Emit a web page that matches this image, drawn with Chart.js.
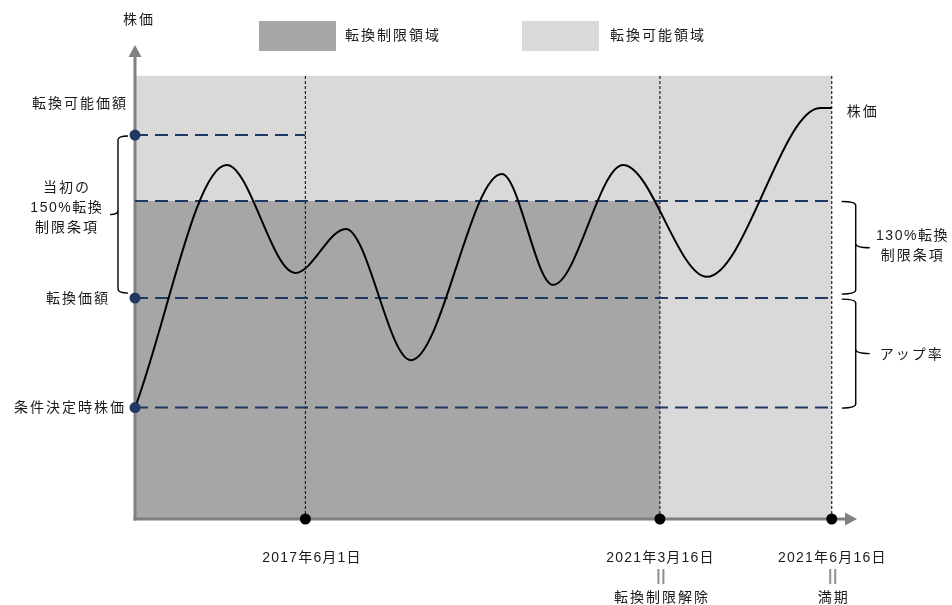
<!DOCTYPE html>
<html><head><meta charset="utf-8">
<script src="https://cdn.jsdelivr.net/npm/chart.js@4"></script>
<style>html,body{margin:0;padding:0;background:#fff;}canvas{display:block;}</style>
</head><body>
<canvas id="c" width="952" height="605"></canvas>
<script>
// ---- data (schematic units: x 0..100 time, y 0..100 price index) ----
const priceX = [0, 12.7, 22.2, 29.2, 38.2, 50.8, 57.9, 67.6, 79.2, 94.9, 96.5];
const priceY = [23.5, 74.7, 51.9, 61.2, 33.5, 72.8, 49.4, 74.7, 51.1, 86.7, 86.7];
const eventX = [23.6, 72.7, 96.5];
const eventLabels = ['2017年6月1日', '2021年3月16日', '2021年6月16日'];
const eventNotes = ['', '転換制限解除', '満期'];
const levelNames = ['条件決定時株価', '転換価額', '130%転換制限', '転換可能価額'];
const levelY = [23.5, 46.6, 67.1, 81.0];
const regionTop = 93.5;
const legendLabels = ['転換制限領域', '転換可能領域'];

const DARK = '#a6a6a6', LIGHT = '#d9d9d9', NAVY = '#1f3864', AXIS = '#808080', TXT = '#1a1a1a';
const FONT = '"Liberation Sans", "Noto Sans CJK JP", sans-serif';

const endX = eventX[2];
const datasets = [];
// dots on x axis
datasets.push({ data: eventX.map(x => ({x, y: 0})), showLine: false, pointRadius: 5.5, pointBackgroundColor: '#000', pointBorderWidth: 0, order: 1, clip: false });
// dots on y axis
datasets.push({ data: [levelY[0], levelY[1], levelY[3]].map(y => ({x: 0, y})), showLine: false, pointRadius: 5.5, pointBackgroundColor: NAVY, pointBorderWidth: 0, order: 1, clip: false });
// price curve
datasets.push({ data: priceX.map((x, i) => ({x, y: priceY[i]})), borderColor: '#000', borderWidth: 2, pointRadius: 0, cubicInterpolationMode: 'monotone', order: 2, clip: false });
// dashed level lines
[levelY[0], levelY[1], levelY[2]].forEach(y => datasets.push({ data: [{x: 0, y}, {x: endX, y}], borderColor: NAVY, borderWidth: 2, borderDash: [13, 7], pointRadius: 0, order: 4, clip: false }));
datasets.push({ data: [{x: 0, y: levelY[3]}, {x: eventX[0], y: levelY[3]}], borderColor: NAVY, borderWidth: 2, borderDash: [13, 7], pointRadius: 0, order: 4, clip: false });
// vertical dotted lines
eventX.forEach(x => datasets.push({ data: [{x, y: 0}, {x, y: regionTop}], borderColor: '#222', borderWidth: 1.2, borderDash: [3, 2], pointRadius: 0, order: 5, clip: false }));
// dark (restricted) region
datasets.push({ data: [{x: 0, y: levelY[3]}, {x: eventX[0], y: levelY[2]}, {x: eventX[1], y: levelY[2]}], stepped: 'after', borderWidth: 0, borderColor: 'rgba(0,0,0,0)', backgroundColor: DARK, fill: 'origin', pointRadius: 0, order: 9 });
const darkIndex = datasets.length - 1;
// light (convertible) region
datasets.push({ data: [{x: 0, y: regionTop}, {x: endX, y: regionTop}], borderWidth: 0, borderColor: 'rgba(0,0,0,0)', backgroundColor: LIGHT, fill: 'origin', pointRadius: 0, order: 10 });

function txt(ctx, s, x, y, align, sp, color, size) {
  ctx.save();
  ctx.font = (size || 14) + 'px ' + FONT;
  ctx.fillStyle = color || TXT;
  ctx.textBaseline = 'middle';
  ctx.textAlign = align;
  ctx.letterSpacing = sp + 'px';
  let dx = 0;
  if (align === 'center') dx = sp / 2; else if (align === 'right') dx = sp;
  ctx.fillText(s, x + dx, y);
  ctx.restore();
}
function brace(ctx, x0, x1, tip, yTop, yBot) {
  const r = 4;
  const yMid = (yTop + yBot) / 2;
  ctx.save();
  ctx.strokeStyle = '#000'; ctx.lineWidth = 1.4;
  ctx.beginPath();
  ctx.moveTo(x0, yTop);
  ctx.quadraticCurveTo(x1, yTop, x1, yTop + r);
  ctx.lineTo(x1, yMid - r);
  ctx.quadraticCurveTo(x1, yMid, tip, yMid);
  ctx.moveTo(x1, yMid - r);
  ctx.quadraticCurveTo(x1, yMid, x1, yMid + r);
  ctx.lineTo(x1, yBot - r);
  ctx.quadraticCurveTo(x1, yBot, x0, yBot);
  ctx.stroke();
  ctx.restore();
}

const deco = {
  id: 'deco',
  afterDatasetDraw(chart, args) {
    if (args.index !== darkIndex) return;
    const ctx = chart.ctx, X = chart.scales.x, Y = chart.scales.y;
    const x0 = X.getPixelForValue(0), y0 = Y.getPixelForValue(0);
    const yTop = Y.getPixelForValue(Y.max), xEnd = X.getPixelForValue(X.max);
    ctx.save();
    ctx.strokeStyle = AXIS; ctx.fillStyle = AXIS; ctx.lineWidth = 3;
    ctx.beginPath(); ctx.moveTo(x0, y0 + 1.5); ctx.lineTo(x0, yTop + 11); ctx.stroke();
    ctx.beginPath(); ctx.moveTo(x0 - 1.5, y0); ctx.lineTo(xEnd - 11, y0); ctx.stroke();
    ctx.beginPath(); ctx.moveTo(x0, yTop); ctx.lineTo(x0 - 6.5, yTop + 12); ctx.lineTo(x0 + 6.5, yTop + 12); ctx.closePath(); ctx.fill();
    ctx.beginPath(); ctx.moveTo(xEnd, y0); ctx.lineTo(xEnd - 12, y0 - 6.5); ctx.lineTo(xEnd - 12, y0 + 6.5); ctx.closePath(); ctx.fill();
    ctx.restore();
  },
  afterDraw(chart) {
    const ctx = chart.ctx, X = chart.scales.x, Y = chart.scales.y;
    const x0 = X.getPixelForValue(0), y0 = Y.getPixelForValue(0);
    const yTop = Y.getPixelForValue(Y.max);
    const ly = levelY.map(v => Y.getPixelForValue(v));
    const ex = eventX.map(v => X.getPixelForValue(v));
    const xe = ex[2];
    // legend
    ctx.fillStyle = DARK; ctx.fillRect(259, 21, 77, 30);
    ctx.fillStyle = LIGHT; ctx.fillRect(522, 21, 77, 30);
    txt(ctx, legendLabels[0], 345, 36, 'left', 2);
    txt(ctx, legendLabels[1], 610, 36, 'left', 2);
    // y axis title
    txt(ctx, '株価', x0 + 3, yTop - 25, 'center', 2);
    // left labels
    txt(ctx, levelNames[3], x0 - 9, ly[3] - 31, 'right', 2);
    txt(ctx, levelNames[1], x0 - 27, ly[1] + 1, 'right', 2);
    txt(ctx, levelNames[0], x0 - 11, ly[0] + 0.5, 'right', 2);
    const lm = (ly[3] + ly[1]) / 2;
    txt(ctx, '当初の', 66, lm - 28, 'center', 2);
    txt(ctx, '150%転換', 66, lm - 8, 'center', 1.5);
    txt(ctx, '制限条項', 66, lm + 12, 'center', 2);
    brace(ctx, x0 - 7, x0 - 17, x0 - 25, ly[3] + 1, ly[1] - 5);
    // right labels
    txt(ctx, '株価', xe + 15, Y.getPixelForValue(priceY[priceY.length - 1]) + 4, 'left', 2);
    brace(ctx, xe + 10, xe + 24, xe + 38, ly[2] + 0.5, ly[1] - 4);
    brace(ctx, xe + 10, xe + 24, xe + 38, ly[1] + 1, ly[0] + 0.5);
    const r1 = (ly[2] + ly[1]) / 2, r2 = (ly[1] + ly[0]) / 2;
    txt(ctx, '130%転換', xe + 80, r1 - 13, 'center', 1.5);
    txt(ctx, '制限条項', xe + 80, r1 + 7, 'center', 2);
    txt(ctx, 'アップ率', xe + 79, r2 + 2, 'center', 2);
    // dates
    eventLabels.forEach((s, i) => {
      txt(ctx, s, ex[i] + (i === 0 ? 6 : 0), y0 + 39, 'center', 1.2);
      if (eventNotes[i]) {
        ctx.save(); ctx.strokeStyle = '#909090'; ctx.lineWidth = 2;
        ctx.beginPath();
        ctx.moveTo(ex[i] - 1.5, y0 + 50); ctx.lineTo(ex[i] - 1.5, y0 + 65);
        ctx.moveTo(ex[i] + 3.5, y0 + 50); ctx.lineTo(ex[i] + 3.5, y0 + 65);
        ctx.stroke(); ctx.restore();
        txt(ctx, eventNotes[i], ex[i] + 1, y0 + 79, 'center', 2);
      }
    });
  }
};

new Chart(document.getElementById('c'), {
  type: 'line',
  data: { datasets },
  options: {
    responsive: false, animation: false,
    layout: { padding: { left: 135, right: 95, top: 45, bottom: 86 } },
    scales: {
      x: { type: 'linear', min: 0, max: 100, display: false },
      y: { type: 'linear', min: 0, max: 100, display: false }
    },
    plugins: { legend: { display: false }, tooltip: { enabled: false } },
    elements: { line: { tension: 0 } }
  },
  plugins: [deco]
});
</script>
</body></html>
